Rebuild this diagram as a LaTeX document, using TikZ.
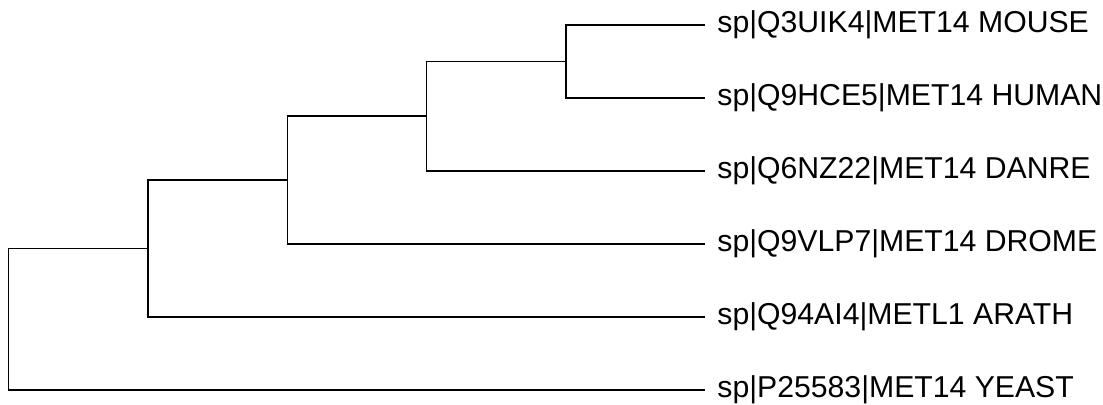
\documentclass[tikz,border=0pt]{standalone}
\usepackage{fontspec}
\setmainfont{Liberation Sans}
\usepackage{tikz}
\usetikzlibrary{positioning,calc}

\begin{document}
\begin{tikzpicture}[
  x=0.5pt,y=-0.5pt,
  branch/.style={draw=black,line width=0.65pt},
  taxon/.style={anchor=base west,inner sep=0pt,xshift=6pt,yshift=-4pt,
    font=\fontsize{15.1}{18}\selectfont}
]
\useasboundingbox (0,0) rectangle (1103,405);
% inner nodes
\coordinate (root) at (8.3,319);
\coordinate (plant) at (148,248.5);
\coordinate (animal) at (287.3,180);
\coordinate (verteb) at (426.7,116);
\coordinate (mammal) at (566,61.5);
% leaves
\coordinate (mouse) at (705,25);
\coordinate (human) at (705,98);
\coordinate (danre) at (705,171);
\coordinate (drome) at (705,244);
\coordinate (arath) at (705,317);
\coordinate (yeast) at (705,390);
\node[taxon] (lmouse) at (mouse) {sp|Q3UIK4|MET14 MOUSE};
\node[taxon] (lhuman) at (human) {sp|Q9HCE5|MET14 HUMAN};
\node[taxon] (ldanre) at (danre) {sp|Q6NZ22|MET14 DANRE};
\node[taxon] (ldrome) at (drome) {sp|Q9VLP7|MET14 DROME};
\node[taxon] (larath) at (arath) {sp|Q94AI4|METL1 ARATH};
\node[taxon] (lyeast) at (yeast) {sp|P25583|MET14 YEAST};
\draw[branch] (root) |- (plant);
\draw[branch] (root) |- (yeast);
\draw[branch] (plant) |- (animal);
\draw[branch] (plant) |- (arath);
\draw[branch] (animal) |- (verteb);
\draw[branch] (animal) |- (drome);
\draw[branch] (verteb) |- (mammal);
\draw[branch] (verteb) |- (danre);
\draw[branch] (mammal) |- (mouse);
\draw[branch] (mammal) |- (human);
\end{tikzpicture}
\end{document}
